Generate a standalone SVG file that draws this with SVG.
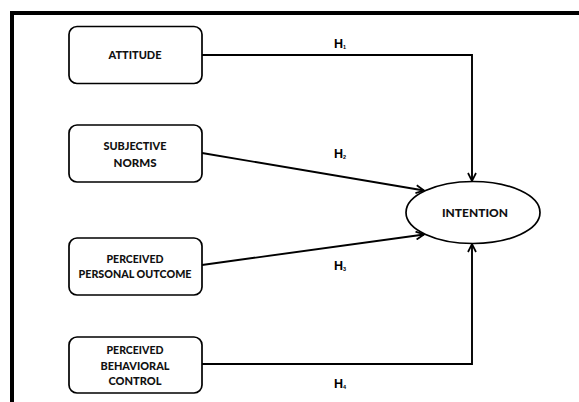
<svg xmlns="http://www.w3.org/2000/svg" width="579" height="402" viewBox="0 0 579 402">
<style>
.box{fill:#fff;stroke:#000;stroke-width:1.7}
.t{font-family:"Lato","Liberation Sans",sans-serif;font-weight:900;font-size:11.5px;fill:#111;text-anchor:middle}
.h{font-family:"Liberation Sans",Arial,sans-serif;font-weight:bold;font-size:12.5px;fill:#000}
.c{fill:none;stroke:#000;stroke-width:1.9}
</style>
<defs>
<marker id="arr" viewBox="0 0 10 10" refX="9" refY="5" markerWidth="10" markerHeight="10" markerUnits="userSpaceOnUse" orient="auto">
<path d="M1,1 L9,5 L1,9" fill="none" stroke="#000" stroke-width="1.7"/>
</marker>
</defs>
<rect width="579" height="402" fill="#fff"/>
<path d="M12,402 V13 H579" fill="none" stroke="#000" stroke-width="4"/>
<g id="connectors">
<polyline class="c" points="202,55 472,55 472,181" marker-end="url(#arr)"/>
<line class="c" x1="202" y1="153" x2="424" y2="190.5" marker-end="url(#arr)"/>
<line class="c" x1="202" y1="265" x2="424" y2="234.5" marker-end="url(#arr)"/>
<polyline class="c" points="202,364 472,364 472,244" marker-end="url(#arr)"/>
<text class="h" x="334" y="48">H<tspan font-size="5.5" dy="1">1</tspan></text>
<text class="h" x="334" y="158">H<tspan font-size="5.5" dy="1">2</tspan></text>
<text class="h" x="334" y="270">H<tspan font-size="5.5" dy="1">3</tspan></text>
<text class="h" x="334" y="388">H<tspan font-size="5.5" dy="1">4</tspan></text>
</g>
<g id="attitude">
<rect class="box" x="69" y="26.5" width="133" height="57" rx="8"/>
<text class="t" x="135" y="59.3" textLength="53" lengthAdjust="spacingAndGlyphs">ATTITUDE</text>
</g>
<g id="subjective-norms">
<rect class="box" x="69" y="125" width="133" height="57" rx="8"/>
<text class="t" x="135" y="150" textLength="63" lengthAdjust="spacingAndGlyphs">SUBJECTIVE</text>
<text class="t" x="135" y="166.7" textLength="43" lengthAdjust="spacingAndGlyphs">NORMS</text>
</g>
<g id="perceived-personal-outcome">
<rect class="box" x="69" y="238" width="133" height="57" rx="8"/>
<text class="t" x="135" y="262.7" textLength="57" lengthAdjust="spacingAndGlyphs">PERCEIVED</text>
<text class="t" x="135" y="278.2" textLength="113" lengthAdjust="spacingAndGlyphs">PERSONAL OUTCOME</text>
</g>
<g id="perceived-behavioral-control">
<rect class="box" x="69" y="337" width="133" height="56" rx="8"/>
<text class="t" x="135" y="354" textLength="57" lengthAdjust="spacingAndGlyphs">PERCEIVED</text>
<text class="t" x="135" y="369.5" textLength="69" lengthAdjust="spacingAndGlyphs">BEHAVIORAL</text>
<text class="t" x="135" y="385" textLength="53" lengthAdjust="spacingAndGlyphs">CONTROL</text>
</g>
<g id="intention">
<ellipse class="box" cx="473" cy="212.5" rx="67" ry="31"/>
<text class="t" x="475" y="216.7" textLength="66" lengthAdjust="spacingAndGlyphs">INTENTION</text>
</g>
</svg>
